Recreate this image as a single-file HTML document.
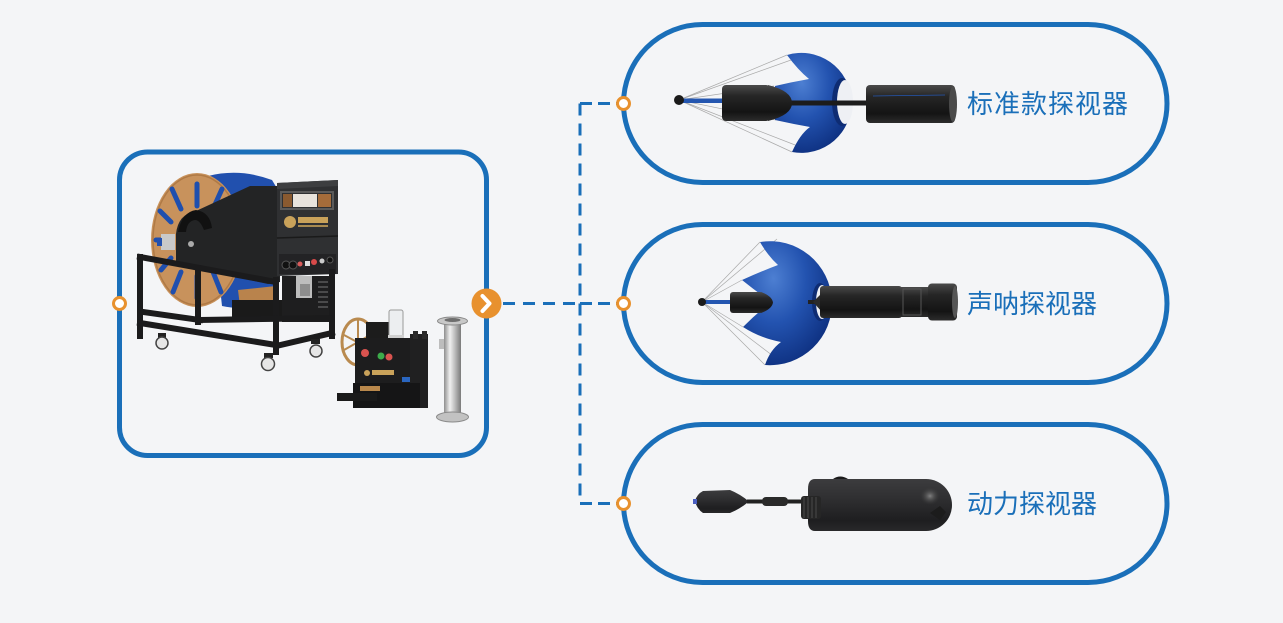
<!DOCTYPE html>
<html>
<head>
<meta charset="utf-8">
<style>
html,body{margin:0;padding:0;background:#f4f5f7;}
body{width:1283px;height:623px;overflow:hidden;}
svg{display:block;}
text{font-family:"Liberation Sans","Noto Sans CJK SC",sans-serif;}
</style>
</head>
<body>
<svg width="1283" height="623" viewBox="0 0 1283 623" xmlns="http://www.w3.org/2000/svg">
<defs>
  <radialGradient id="blueS" cx="0.35" cy="0.3" r="0.8">
    <stop offset="0" stop-color="#4d7fd2"/>
    <stop offset="0.45" stop-color="#2353b0"/>
    <stop offset="1" stop-color="#0a2a78"/>
  </radialGradient>
  <linearGradient id="cyl" x1="0" y1="0" x2="0" y2="1">
    <stop offset="0" stop-color="#4a4a4a"/>
    <stop offset="0.3" stop-color="#262626"/>
    <stop offset="0.75" stop-color="#141414"/>
    <stop offset="1" stop-color="#2c2c2c"/>
  </linearGradient>
  <linearGradient id="cyl3" x1="0" y1="0" x2="0" y2="1">
    <stop offset="0" stop-color="#3c3c3e"/>
    <stop offset="0.35" stop-color="#303032"/>
    <stop offset="0.8" stop-color="#1e1e20"/>
    <stop offset="1" stop-color="#28282a"/>
  </linearGradient>
  <linearGradient id="steel" x1="0" y1="0" x2="1" y2="0">
    <stop offset="0" stop-color="#8e8e8e"/>
    <stop offset="0.35" stop-color="#f0f0f0"/>
    <stop offset="0.6" stop-color="#c4c4c4"/>
    <stop offset="1" stop-color="#7a7a7a"/>
  </linearGradient>
  <radialGradient id="hl" cx="0.5" cy="0.5" r="0.5">
    <stop offset="0" stop-color="#8a8a8a" stop-opacity="0.9"/>
    <stop offset="1" stop-color="#3a3a3a" stop-opacity="0"/>
  </radialGradient>
</defs>

<!-- ========== LEFT BOX ========== -->
<rect x="119.5" y="152" width="367" height="303.5" rx="28" ry="28" fill="none" stroke="#1a6fb9" stroke-width="5"/>

<!-- reel drum (blue) -->
<path d="M208,176 Q240,168 272,180 L278,190 L278,300 Q250,312 222,306 Z" fill="#2150ae"/>
<path d="M238,290 L276,286 L276,304 Q255,310 240,306 Z" fill="#b9834c"/>
<!-- orange disc -->
<ellipse cx="197" cy="240" rx="46" ry="67" fill="#c8925c"/>
<ellipse cx="197" cy="240" rx="44" ry="65" fill="none" stroke="#b07a45" stroke-width="1.5"/>
<!-- slats -->
<g stroke="#1f4fae" stroke-width="5" stroke-linecap="round">
  <line x1="197" y1="206" x2="197" y2="184"/>
  <line x1="213" y1="209" x2="222" y2="189"/>
  <line x1="181" y1="209" x2="172" y2="189"/>
  <line x1="171" y1="222" x2="160" y2="211"/>
  <line x1="167" y1="240" x2="156" y2="240"/>
  <line x1="171" y1="258" x2="161" y2="270"/>
  <line x1="181" y1="272" x2="173" y2="292"/>
  <line x1="197" y1="276" x2="197" y2="298"/>
  <line x1="213" y1="272" x2="221" y2="292"/>
</g>
<!-- side plate -->
<path d="M176,264 L176,234 Q178,214 196,211 L250,186 L280,186 L280,282 L268,284 Z" fill="#232425"/>
<path d="M178,232 Q182,212 196,210 Q210,212 212,228 L204,230 Q200,220 195,220 Q187,221 186,232 Z" fill="#111"/>
<circle cx="191" cy="244" r="3" fill="#aaa"/>
<!-- clamp -->
<rect x="161" y="234" width="14" height="16" fill="#c9c9c9"/>
<rect x="157" y="238" width="5" height="8" fill="#2350ae"/>
<!-- control box -->
<path d="M277,183 L338,180 L338,274 L277,276 Z" fill="#2f3032"/>
<path d="M277,183 L338,180 L338,186 L277,189 Z" fill="#3d3e40"/>
<rect x="281" y="192" width="52" height="17" fill="none" stroke="#5a5a5a" stroke-width="2"/>
<rect x="283" y="194" width="9" height="13" fill="#8a5a30"/>
<rect x="293" y="194" width="24" height="13" fill="#e8e3dc"/>
<rect x="318" y="194" width="13" height="13" fill="#a56c3a"/>
<line x1="277" y1="238" x2="338" y2="236" stroke="#1a1a1a" stroke-width="1.5"/>
<!-- logo -->
<circle cx="290" cy="222" r="6" fill="#c9a25a"/>
<rect x="298" y="217" width="30" height="6" fill="#c9a25a"/>
<rect x="298" y="225" width="30" height="2" fill="#a88a50"/>
<!-- button panel -->
<rect x="279" y="254" width="57" height="20" fill="#232325"/>
<circle cx="286" cy="265" r="4" fill="#111" stroke="#555" stroke-width="1"/>
<circle cx="293" cy="265" r="4" fill="#111" stroke="#555" stroke-width="1"/>
<circle cx="300" cy="264" r="2.5" fill="#d85a5a"/>
<rect x="305" y="261" width="5" height="5" fill="#ddd"/>
<circle cx="314" cy="262" r="3" fill="#d84a4a"/>
<circle cx="322" cy="261" r="2.5" fill="#ccc"/>
<circle cx="330" cy="260" r="3" fill="#111" stroke="#555"/>
<!-- mechanism under box -->
<rect x="282" y="276" width="50" height="46" fill="#1e1e1f"/>
<rect x="296" y="276" width="16" height="22" fill="#bdbdbd"/>
<rect x="300" y="284" width="10" height="12" fill="#8d8d8d"/>
<g stroke="#777" stroke-width="1">
  <line x1="318" y1="282" x2="328" y2="282"/><line x1="318" y1="287" x2="328" y2="287"/>
  <line x1="318" y1="292" x2="328" y2="292"/><line x1="318" y1="297" x2="328" y2="297"/>
  <line x1="318" y1="302" x2="328" y2="302"/><line x1="318" y1="307" x2="328" y2="307"/>
</g>
<rect x="232" y="300" width="50" height="18" fill="#1a1a1a"/>
<!-- frame -->
<g stroke="#1b1b1c" stroke-width="6" stroke-linecap="square" fill="none">
  <line x1="198" y1="268" x2="198" y2="322"/>
  <line x1="140" y1="257" x2="276" y2="282"/>
  <line x1="140" y1="257" x2="140" y2="336"/>
  <line x1="140" y1="323" x2="276" y2="345"/>
  <line x1="143" y1="312" x2="200" y2="320"/>
  <line x1="276" y1="280" x2="276" y2="352"/>
  <line x1="276" y1="346" x2="332" y2="333"/>
  <line x1="332" y1="272" x2="332" y2="336"/>
  <line x1="200" y1="320" x2="330" y2="318"/>
</g>
<!-- wheels -->
<g>
  <rect x="158" y="333" width="8" height="5" fill="#222"/>
  <circle cx="162" cy="343" r="6" fill="#e6e6e6" stroke="#444" stroke-width="1.5"/>
  <rect x="264" y="353" width="9" height="5" fill="#222"/>
  <circle cx="268" cy="364" r="6.5" fill="#e6e6e6" stroke="#444" stroke-width="1.5"/>
  <rect x="311" y="339" width="9" height="5" fill="#222"/>
  <circle cx="316" cy="351" r="6" fill="#e6e6e6" stroke="#444" stroke-width="1.5"/>
</g>

<!-- small device -->
<g>
  <ellipse cx="358" cy="342" rx="16" ry="23" fill="none" stroke="#b98a4f" stroke-width="3"/>
  <line x1="358" y1="320" x2="358" y2="364" stroke="#b98a4f" stroke-width="2"/>
  <line x1="344" y1="335" x2="372" y2="350" stroke="#b98a4f" stroke-width="2"/>
  <line x1="344" y1="350" x2="372" y2="334" stroke="#b98a4f" stroke-width="2"/>
  <rect x="366" y="322" width="24" height="20" fill="#1c1c1c"/>
  <rect x="389" y="310" width="14" height="33" rx="2" fill="#eceef0" stroke="#9a9a9a" stroke-width="1"/>
  <rect x="388" y="335" width="16" height="8" fill="#cfcfcf"/>
  <rect x="355" y="338" width="60" height="56" fill="#1d1d1e"/>
  <rect x="410" y="334" width="18" height="74" fill="#202021"/>
  <rect x="413" y="331" width="5" height="8" fill="#2a2a2a"/>
  <rect x="422" y="331" width="5" height="8" fill="#2a2a2a"/>
  <rect x="353" y="383" width="67" height="25" fill="#151516"/>
  <rect x="337" y="393" width="40" height="8" fill="#1a1a1a"/>
  <rect x="360" y="386" width="20" height="5" fill="#b9884c"/>
  <circle cx="365" cy="353" r="4" fill="#d9534f"/>
  <circle cx="381" cy="356" r="3.5" fill="#3cab4a"/>
  <circle cx="389" cy="357" r="3.5" fill="#d9534f"/>
  <circle cx="367" cy="373" r="3" fill="#c9a25a"/>
  <rect x="372" y="370" width="22" height="5" fill="#c9a25a"/>
  <rect x="402" y="377" width="8" height="5" fill="#2a66c0"/>
</g>

<!-- pillar -->
<g>
  <rect x="444" y="321" width="17" height="96" fill="url(#steel)"/>
  <ellipse cx="452.5" cy="321" rx="15" ry="4" fill="#c8c8c8" stroke="#888" stroke-width="1"/>
  <ellipse cx="452.5" cy="320" rx="8" ry="2" fill="#6e6e6e"/>
  <rect x="439" y="339" width="5" height="10" fill="#bdbdbd"/>
  <ellipse cx="452.5" cy="417" rx="16" ry="5" fill="#c2c2c2" stroke="#8a8a8a" stroke-width="1"/>
</g>

<!-- ========== CONNECTORS ========== -->
<g stroke="#1a6fb9" stroke-width="3" stroke-dasharray="12 8" fill="none">
  <line x1="503" y1="303.5" x2="580" y2="303.5"/>
  <line x1="580" y1="103.5" x2="580" y2="503.5"/>
  <line x1="580" y1="103.5" x2="617" y2="103.5" stroke-dasharray="12 6"/>
  <line x1="580" y1="303.5" x2="617" y2="303.5" stroke-dasharray="12 6"/>
  <line x1="580" y1="503.5" x2="617" y2="503.5" stroke-dasharray="12 6"/>
</g>

<!-- ========== PILLS ========== -->
<rect x="623.5" y="24.5" width="543.5" height="158" rx="79" ry="79" fill="none" stroke="#1a6fb9" stroke-width="5"/>
<rect x="623.5" y="224.5" width="543.5" height="158" rx="79" ry="79" fill="none" stroke="#1a6fb9" stroke-width="5"/>
<rect x="623.5" y="424.5" width="543.5" height="158" rx="79" ry="79" fill="none" stroke="#1a6fb9" stroke-width="5"/>

<!-- orange nodes -->
<g fill="#ffffff" stroke="#e8912e" stroke-width="3">
  <circle cx="119.5" cy="303.5" r="6"/>
  <circle cx="623.5" cy="103.5" r="6"/>
  <circle cx="623.5" cy="303.5" r="6"/>
  <circle cx="623.5" cy="503.5" r="6"/>
</g>
<circle cx="486.5" cy="303.5" r="15" fill="#e8912e"/>
<path d="M482.5,296 L489.5,303.5 L482.5,311" fill="none" stroke="#ffffff" stroke-width="4" stroke-linecap="round" stroke-linejoin="round"/>

<!-- ========== DEVICE 1 ========== -->
<g>
  <g stroke="#a9a9a9" stroke-width="0.7">
    <line x1="679" y1="100" x2="787" y2="55"/>
    <line x1="679" y1="100" x2="805" y2="55"/>
    <line x1="679" y1="100" x2="774" y2="86"/>
    <line x1="679" y1="100" x2="776" y2="120"/>
    <line x1="679" y1="100" x2="792" y2="152"/>
    <line x1="679" y1="100" x2="808" y2="150"/>
  </g>
  <rect x="679" y="98.5" width="46" height="4.5" fill="#2456b0"/>
  <path d="M787,55 A50,50 0 1,1 792,152 Q800,134 810,127 Q793,124 775,120 L775,86 Q792,82 809,79 Q798,70 787,55 Z" fill="url(#blueS)"/>
  <ellipse cx="842" cy="102" rx="10" ry="24" fill="#0e2c73"/>
  <ellipse cx="845" cy="102" rx="8" ry="22" fill="#eef0f4"/>
  <rect x="788" y="100.5" width="82" height="5" fill="#1c1c1c"/>
  <rect x="722" y="85" width="48" height="36" rx="4" fill="url(#cyl)"/>
  <path d="M768,85 Q792,91 792,103 Q792,115 768,121 Z" fill="url(#cyl)"/>
  <circle cx="679" cy="100" r="5" fill="#1a1a1a"/>
  <rect x="866" y="85" width="89" height="38" rx="4" fill="url(#cyl)"/>
  <ellipse cx="953" cy="104" rx="4" ry="18" fill="#4a4a4a"/>
  <line x1="873" y1="96" x2="945" y2="95" stroke="#2456b0" stroke-width="0.8"/>
</g>

<!-- ========== DEVICE 2 ========== -->
<g>
  <g stroke="#a9a9a9" stroke-width="0.7">
    <line x1="702" y1="302" x2="760" y2="242"/>
    <line x1="702" y1="302" x2="777" y2="239"/>
    <line x1="702" y1="302" x2="742" y2="280"/>
    <line x1="702" y1="302" x2="743" y2="327"/>
    <line x1="702" y1="302" x2="765" y2="365"/>
    <line x1="702" y1="302" x2="781" y2="362"/>
  </g>
  <rect x="702" y="300" width="30" height="4" fill="#2456b0"/>
  <path d="M760,242 A62,62 0 1,1 765,365 Q770,350 781,342 Q760,338 743,327 Q757,313 771,302 Q757,292 742,280 Q762,271 778,265 Q768,256 760,242 Z" fill="url(#blueS)"/>
  <ellipse cx="820" cy="302" rx="8" ry="19" fill="#0e2c73"/>
  <ellipse cx="822" cy="302" rx="6" ry="17" fill="#eef0f4"/>
  <rect x="730" y="292" width="33" height="21" rx="3" fill="url(#cyl)"/>
  <path d="M761,292 Q772,296 773,302.5 Q772,309 761,313 Z" fill="url(#cyl)"/>
  <circle cx="702" cy="302" r="4" fill="#1a1a1a"/>
  <rect x="808" y="300" width="12" height="4" fill="#222"/>
  <path d="M813,302 L822,293 L822,312 Z" fill="#2a2a2a"/>
  <rect x="820" y="286" width="82" height="32" rx="3" fill="url(#cyl)"/>
  <rect x="900" y="287" width="30" height="30" fill="url(#cyl)"/>
  <rect x="903" y="289" width="18" height="26" fill="none" stroke="#555" stroke-width="1"/>
  <rect x="928" y="283.5" width="29" height="37" rx="4" fill="url(#cyl)"/>
  <ellipse cx="955" cy="302" rx="3" ry="16" fill="#555"/>
</g>

<!-- ========== DEVICE 3 ========== -->
<g>
  <path d="M695,501 Q697,494 703,491 L730,490 Q740,494 749,501.5 Q740,509 730,513 L703,513 Q697,509 695,501 Z" fill="url(#cyl3)"/>
  <rect x="693" y="499" width="4" height="5" fill="#4a5fc0"/>
  <rect x="747" y="499.5" width="60" height="4" fill="#222"/>
  <rect x="762" y="497" width="26" height="9" rx="4" fill="#2a2a2a"/>
  <path d="M815,479 L926,479 A26,26 0 0 1 926,531 L815,531 Q808,531 808,521 L808,489 Q808,479 815,479 Z" fill="url(#cyl3)"/>
  <ellipse cx="930" cy="496" rx="10" ry="9" fill="url(#hl)"/>
  <path d="M833,479 Q840,474 848,479 Z" fill="#1a1a1a"/>
  <path d="M930,513 L940,506 L946,512 L940,520 Z" fill="#1c1c1c"/>
  <rect x="801" y="496" width="20" height="23" rx="3" fill="#262626"/>
  <g stroke="#555" stroke-width="0.8">
    <line x1="804" y1="497" x2="804" y2="518"/><line x1="808" y1="497" x2="808" y2="518"/>
    <line x1="812" y1="497" x2="812" y2="518"/><line x1="816" y1="497" x2="816" y2="518"/>
  </g>
</g>

<!-- ========== LABELS ========== -->
<g fill="#1a6fb9" font-size="26">
  <text x="967" y="104" dominant-baseline="central" letter-spacing="1">标准款探视器</text>
  <text x="967" y="304" dominant-baseline="central">声呐探视器</text>
  <text x="967" y="504" dominant-baseline="central">动力探视器</text>
</g>
</svg>
</body>
</html>
